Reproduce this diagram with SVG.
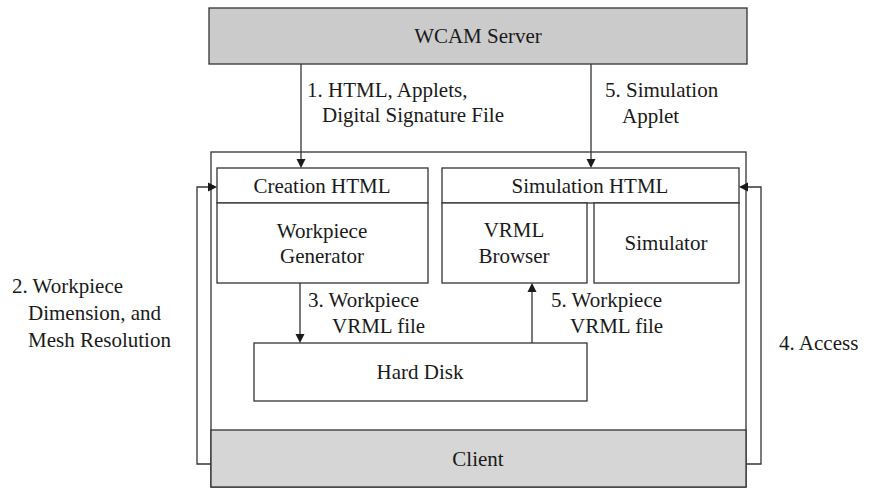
<svg xmlns="http://www.w3.org/2000/svg" width="883" height="490" viewBox="0 0 883 490">
  <rect width="883" height="490" fill="#ffffff"/>

  <g stroke="#333333" stroke-width="1.3">
    <g id="server">
      <rect fill="#cbcbcb" x="209" y="8" width="538" height="56"/>
    </g>
    <g id="client-frame">
      <rect fill="#ffffff" x="211" y="152" width="535" height="335"/>
    </g>
    <g id="client">
      <rect fill="#d6d6d6" x="211" y="430" width="535" height="57"/>
    </g>
    <g id="creation-html">
      <rect fill="#ffffff" x="217" y="168" width="211" height="35"/>
    </g>
    <g id="workpiece-generator">
      <rect fill="#ffffff" x="217" y="203" width="211" height="80"/>
    </g>
    <g id="simulation-html">
      <rect fill="#ffffff" x="442" y="168" width="297" height="35"/>
    </g>
    <g id="vrml-browser">
      <rect fill="#ffffff" x="442" y="203" width="145" height="80"/>
    </g>
    <g id="simulator">
      <rect fill="#ffffff" x="594" y="203" width="145" height="80"/>
    </g>
    <g id="hard-disk">
      <rect fill="#ffffff" x="254" y="343" width="333" height="58"/>
    </g>

    <g id="connectors">
      <g fill="none">
        <line x1="301" y1="64" x2="301" y2="160"/>
        <line x1="591" y1="64" x2="591" y2="160"/>
        <line x1="300" y1="283" x2="300" y2="335"/>
        <line x1="532" y1="343" x2="532" y2="291"/>
        <polyline points="211,464 197,464 197,187 209,187"/>
        <polyline points="746,464 761,464 761,187 747,187"/>
      </g>
      <g fill="#1a1a1a" stroke="none">
        <path d="M296.5,159 L305.5,159 L301,168 z"/>
        <path d="M586.5,159 L595.5,159 L591,168 z"/>
        <path d="M295.5,334 L304.5,334 L300,343 z"/>
        <path d="M527.5,292 L536.5,292 L532,283 z"/>
        <path d="M208,182.5 L208,191.5 L217,187 z"/>
        <path d="M748,182.5 L748,191.5 L739,187 z"/>
      </g>
    </g>
  </g>

  <g id="node-text" text-anchor="middle" fill="#1a1a1a">
    <text style="font-family:'Liberation Serif','DejaVu Serif',serif" font-size="21" x="478" y="43">WCAM Server</text>
    <text style="font-family:'Liberation Serif','DejaVu Serif',serif" font-size="21" x="478" y="466">Client</text>
    <text style="font-family:'Liberation Serif','DejaVu Serif',serif" font-size="21" x="322" y="193">Creation HTML</text>
    <text style="font-family:'Liberation Serif','DejaVu Serif',serif" font-size="21" x="322" y="238">Workpiece</text>
    <text style="font-family:'Liberation Serif','DejaVu Serif',serif" font-size="21" x="322" y="263">Generator</text>
    <text style="font-family:'Liberation Serif','DejaVu Serif',serif" font-size="21" x="590" y="193">Simulation HTML</text>
    <text style="font-family:'Liberation Serif','DejaVu Serif',serif" font-size="21" x="514" y="237">VRML</text>
    <text style="font-family:'Liberation Serif','DejaVu Serif',serif" font-size="21" x="514" y="263">Browser</text>
    <text style="font-family:'Liberation Serif','DejaVu Serif',serif" font-size="21" x="666" y="250">Simulator</text>
    <text style="font-family:'Liberation Serif','DejaVu Serif',serif" font-size="21" x="420" y="379">Hard Disk</text>
  </g>

  <g id="labels" fill="#1a1a1a">
    <text style="font-family:'Liberation Serif','DejaVu Serif',serif" font-size="21" x="307" y="97">1. HTML, Applets,</text>
    <text style="font-family:'Liberation Serif','DejaVu Serif',serif" font-size="21" x="322" y="122">Digital Signature File</text>
    <text style="font-family:'Liberation Serif','DejaVu Serif',serif" font-size="21" x="605" y="97">5. Simulation</text>
    <text style="font-family:'Liberation Serif','DejaVu Serif',serif" font-size="21" x="622" y="123">Applet</text>
    <text style="font-family:'Liberation Serif','DejaVu Serif',serif" font-size="21" x="12" y="293">2. Workpiece</text>
    <text style="font-family:'Liberation Serif','DejaVu Serif',serif" font-size="21" x="28" y="320">Dimension, and</text>
    <text style="font-family:'Liberation Serif','DejaVu Serif',serif" font-size="21" x="28" y="347">Mesh Resolution</text>
    <text style="font-family:'Liberation Serif','DejaVu Serif',serif" font-size="21" x="308" y="307">3. Workpiece</text>
    <text style="font-family:'Liberation Serif','DejaVu Serif',serif" font-size="21" x="332" y="333">VRML file</text>
    <text style="font-family:'Liberation Serif','DejaVu Serif',serif" font-size="21" x="551" y="307">5. Workpiece</text>
    <text style="font-family:'Liberation Serif','DejaVu Serif',serif" font-size="21" x="570" y="333">VRML file</text>
    <text style="font-family:'Liberation Serif','DejaVu Serif',serif" font-size="21" x="779" y="350">4. Access</text>
  </g>
</svg>
